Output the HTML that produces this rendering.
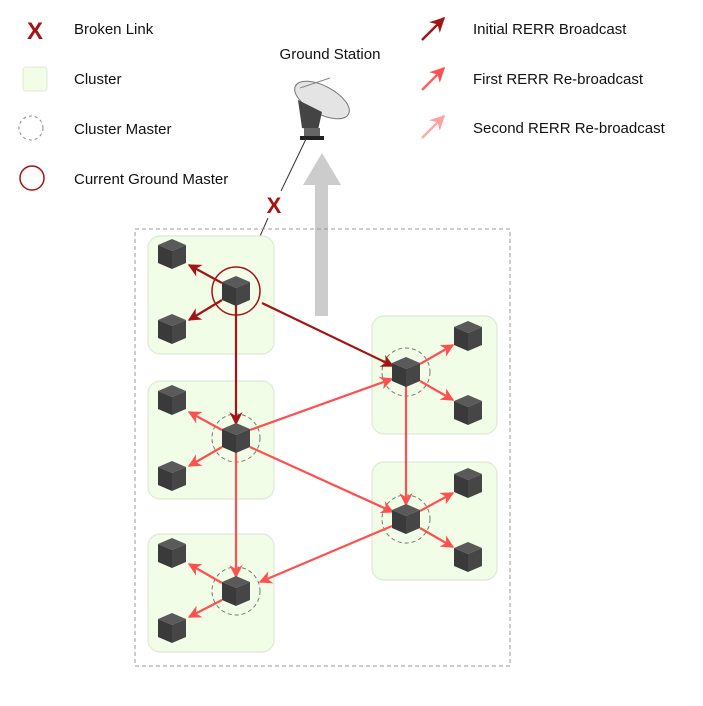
<!DOCTYPE html>
<html><head><meta charset="utf-8"><style>
body{margin:0;background:#fff;}
svg{display:block;font-family:"Liberation Sans",Arial,sans-serif;}
</style></head><body>
<svg width="703" height="706" viewBox="0 0 703 706" xmlns="http://www.w3.org/2000/svg">
<defs>
<g id="cube">
<polygon points="0,-15 14,-9 0,-3 -14,-9" fill="#5a5a5a"/>
<polygon points="-14,-9 0,-3 0,15 -14,9" fill="#3a3a3a"/>
<polygon points="14,-9 0,-3 0,15 14,9" fill="#464646"/>
</g>
<marker id="ad" viewBox="0 0 10 10" refX="9" refY="5" markerWidth="6" markerHeight="6" orient="auto"><path d="M0,0 L10,5 L0,10 L3,5z" fill="#a31515"/></marker>
<marker id="ar" viewBox="0 0 10 10" refX="9" refY="5" markerWidth="6" markerHeight="6" orient="auto"><path d="M0,0 L10,5 L0,10 L3,5z" fill="#ff5050"/></marker>
<marker id="al" viewBox="0 0 10 10" refX="9" refY="5" markerWidth="6" markerHeight="6" orient="auto"><path d="M0,0 L10,5 L0,10 L3,5z" fill="#ffa0a0"/></marker>
</defs>

<text x="35" y="39" font-size="24" font-weight="bold" fill="#a31515" text-anchor="middle">X</text>
<text x="74" y="34" font-size="15" fill="#111">Broken Link</text>
<rect x="23" y="67" width="24" height="24" rx="3" fill="#f2fde8" stroke="#e0e8d8"/>
<text x="74" y="84" font-size="15" fill="#111">Cluster</text>
<circle cx="31" cy="128" r="12" fill="none" stroke="#888" stroke-dasharray="3,3"/>
<text x="74" y="134" font-size="15" fill="#111">Cluster Master</text>
<circle cx="32" cy="178" r="12" fill="none" stroke="#a31515" stroke-width="1.5"/>
<text x="74" y="184" font-size="15" fill="#111">Current Ground Master</text>

<line x1="422" y1="40" x2="444" y2="18" stroke="#a31515" stroke-width="2.5" marker-end="url(#ad)"/>
<text x="473" y="34" font-size="15" fill="#111">Initial RERR Broadcast</text>
<line x1="422" y1="90" x2="444" y2="68" stroke="#ff6060" stroke-width="2.5" marker-end="url(#ar)"/>
<text x="473" y="84" font-size="15" fill="#111">First RERR Re-broadcast</text>
<line x1="422" y1="138" x2="444" y2="116" stroke="#ffaaaa" stroke-width="2.5" marker-end="url(#al)"/>
<text x="473" y="133" font-size="15" fill="#111">Second RERR Re-broadcast</text>

<text x="330" y="59" font-size="15" fill="#111" text-anchor="middle">Ground Station</text>
<g>
<ellipse cx="322" cy="100" rx="30" ry="14" transform="rotate(28 322 100)" fill="#e4e4e4" stroke="#777"/>
<line x1="300" y1="88" x2="330" y2="78" stroke="#888"/>
<path d="M298,100 L322,112 L318,130 L302,128z" fill="#444"/>
<rect x="304" y="128" width="16" height="10" fill="#666"/>
<rect x="300" y="136" width="24" height="4" fill="#222"/>
</g>
<polygon points="315,316 328,316 328,185 341,185 322,153 303,185 315,185" fill="#cccccc"/>
<line x1="306" y1="139" x2="281" y2="191" stroke="#333" stroke-width="1"/>
<line x1="268" y1="218" x2="236" y2="291" stroke="#333" stroke-width="1"/>
<text x="274" y="213" font-size="22" font-weight="bold" fill="#a31515" text-anchor="middle">X</text>

<rect x="135" y="229" width="375" height="437" fill="none" stroke="#999" stroke-dasharray="4,3"/>

<g fill="#f2fde8" stroke="#dfe8d6" stroke-width="1.2">
<rect x="148" y="236" width="126" height="118" rx="12"/>
<rect x="148" y="381" width="126" height="118" rx="12"/>
<rect x="148" y="534" width="126" height="118" rx="12"/>
<rect x="372" y="316" width="125" height="118" rx="12"/>
<rect x="372" y="462" width="125" height="118" rx="12"/>
</g>

<g fill="none" stroke="#777" stroke-dasharray="4,3">
<circle cx="236" cy="438" r="24"/>
<circle cx="236" cy="591" r="24"/>
<circle cx="406" cy="372" r="24"/>
<circle cx="406" cy="519" r="24"/>
</g>
<circle cx="236" cy="291" r="24" fill="none" stroke="#a31515" stroke-width="1.5"/>

<g stroke="#a31515" stroke-width="2.2" fill="none" marker-end="url(#ad)">
<line x1="222" y1="283" x2="189" y2="265"/>
<line x1="222" y1="300" x2="189" y2="320"/>
<line x1="236" y1="305" x2="236" y2="424"/>
<line x1="262" y1="303" x2="393" y2="366"/>
</g>
<g stroke="#ff5050" stroke-width="2.2" fill="none" marker-end="url(#ar)">
<line x1="222" y1="430" x2="189" y2="412"/>
<line x1="222" y1="447" x2="189" y2="466"/>
<line x1="236" y1="452" x2="236" y2="577"/>
<line x1="250" y1="430" x2="392" y2="379"/>
<line x1="250" y1="447" x2="393" y2="512"/>
<line x1="406" y1="386" x2="406" y2="505"/>
<line x1="420" y1="364" x2="453" y2="345"/>
<line x1="420" y1="381" x2="453" y2="400"/>
<line x1="420" y1="511" x2="453" y2="493"/>
<line x1="420" y1="528" x2="453" y2="547"/>
<line x1="392" y1="526" x2="260" y2="582"/>
<line x1="222" y1="583" x2="189" y2="564"/>
<line x1="222" y1="600" x2="189" y2="617"/>
</g>

<use href="#cube" x="172" y="254"/><use href="#cube" x="172" y="329"/><use href="#cube" x="236" y="291"/>
<use href="#cube" x="172" y="400"/><use href="#cube" x="172" y="476"/><use href="#cube" x="236" y="438"/>
<use href="#cube" x="172" y="553"/><use href="#cube" x="172" y="628"/><use href="#cube" x="236" y="591"/>
<use href="#cube" x="406" y="372"/><use href="#cube" x="468" y="336"/><use href="#cube" x="468" y="410"/>
<use href="#cube" x="406" y="519"/><use href="#cube" x="468" y="483"/><use href="#cube" x="468" y="557"/>
</svg>
</body></html>
